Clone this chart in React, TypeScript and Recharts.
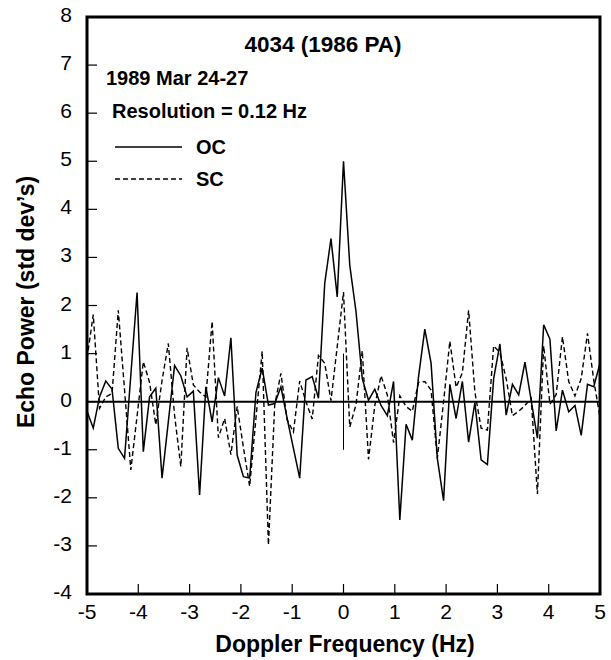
import React from "react";
import { LineChart, Line, XAxis, YAxis, ReferenceLine, ReferenceArea } from "recharts";

// Doppler bins, 0.122 Hz apart, -5 .. +5 Hz
const FREQ = [
  -5.0, -4.878, -4.756, -4.634, -4.512, -4.39, -4.268, -4.146, -4.024, -3.902,
  -3.78, -3.659, -3.537, -3.415, -3.293, -3.171, -3.049, -2.927, -2.805, -2.683,
  -2.561, -2.439, -2.317, -2.195, -2.073, -1.951, -1.829, -1.707, -1.585, -1.463,
  -1.341, -1.22, -1.098, -0.976, -0.854, -0.732, -0.61, -0.488, -0.366, -0.244,
  -0.122, 0, 0.122, 0.244, 0.366, 0.488, 0.61, 0.732, 0.854, 0.976,
  1.098, 1.22, 1.341, 1.463, 1.585, 1.707, 1.829, 1.951, 2.073, 2.195,
  2.317, 2.439, 2.561, 2.683, 2.805, 2.927, 3.049, 3.171, 3.293, 3.415,
  3.537, 3.659, 3.78, 3.902, 4.024, 4.146, 4.268, 4.39, 4.512, 4.634,
  4.756, 4.878, 5.0,
];

// echo power, OC polarization (std dev's)
const OC = [
  -0.2, -0.55, 0.1, 0.43, 0.26, -0.97, -1.18, 0.55, 2.27, -1.04,
  0.1, 0.28, -1.59, -0.42, 0.75, 0.54, 0.1, 0.22, -1.94, 0.31,
  -0.42, 0.5, 0.12, 1.33, -1.11, -1.56, -1.59, 0.19, 0.7, -0.07,
  -0.04, 0.31, -0.35, -0.97, -1.59, 0.45, 0.52, 0.07, 2.46, 3.39,
  2.18, 5.0, 2.84, 1.87, 0.48, 0.03, 0.26, -0.08, -0.29, 0.42,
  -2.46, -0.47, -0.8, 0.52, 1.51, 0.8, -1.18, -2.06, 0.36, -0.35,
  0.42, -0.84, -0.02, -1.21, -1.31, 0.48, 1.2, -0.28, 0.36, 0.14,
  0.82, 0.02, -0.76, 1.6, 1.3, -0.61, 0.24, -0.21, -0.08, -0.7,
  0.36, 0.31, 0.8,
];

// echo power, SC polarization (std dev's)
const SC = [
  0.9, 1.81, -0.14, 0.1, 0.17, 1.9, 0.24, -1.42, -0.3, 0.83,
  0.4, -0.48, 0.44, 1.21, -0.28, -1.35, 1.12, 0.35, 0.2, 0.1,
  1.67, -0.75, -0.35, -1.1, -0.1, -0.95, -1.76, -0.35, 1.05, -2.98,
  -0.07, 0.59, -0.38, -0.63, 0.43, 0.0, -0.36, 0.96, 0.8, 0.02,
  1.15, 2.28, -0.53, -0.06, 1.06, -1.2, -0.08, 0.54, 0.14, -0.85,
  0.12, -0.1, -0.2, 0.4, 0.42, 0.24, -1.18, 0.0, 1.26, 0.3,
  0.6, 1.9, 0.2, -0.55, -0.59, 1.16, 1.02, 0.48, -0.29, -0.2,
  -0.08, 0.07, -1.92, 1.16, -0.05, 0.15, 1.35, 0.42, 0.12, 0.48,
  1.42, 0.45, -0.33,
];

const X_TICKS = [-5, -4, -3, -2, -1, 0, 1, 2, 3, 4, 5];
const Y_TICKS = [-4, -3, -2, -1, 0, 1, 2, 3, 4, 5, 6, 7, 8];

// short marker at 0 Hz
const ZERO_MARK = [-1, 1];

const data = FREQ.map((f, i) => ({ f, oc: OC[i], sc: SC[i] }));

const W = 611;
const H = 660;
const LEFT = 87;
const RIGHT = 600;
const TOP = 17;
const BOTTOM = 594;
const FONT = "'Liberation Sans', Arial, Helvetica, sans-serif";

function XTick({ x, payload }: any) {
  return (
    <g>
      <line x1={x} x2={x} y1={BOTTOM} y2={BOTTOM - 10} stroke="#000" strokeWidth={1.2} />
      <text x={x} y={619} textAnchor="middle" fontSize={21} fontFamily={FONT} fill="#000">
        {payload.value}
      </text>
    </g>
  );
}

function YTick({ y, payload }: any) {
  return (
    <g>
      <line x1={LEFT} x2={LEFT + 10} y1={y} y2={y} stroke="#000" strokeWidth={1.2} />
      <text x={72} y={y + 5} textAnchor="end" fontSize={21} fontFamily={FONT} fill="#000">
        {payload.value}
      </text>
    </g>
  );
}

export default function App() {
  return (
    <div style={{ position: "absolute", left: 0, top: 0, width: W, height: H, background: "#fff" }}>
      <LineChart
        width={W}
        height={H}
        data={data}
        margin={{ top: TOP, right: W - RIGHT, bottom: 36, left: 27 }}
      >
        <XAxis
          type="number"
          dataKey="f"
          domain={[-5, 5]}
          ticks={X_TICKS}
          height={30}
          axisLine={false}
          tickLine={false}
          tick={(p: any) => <XTick {...p} />}
        />
        <YAxis
          type="number"
          domain={[-4, 8]}
          ticks={Y_TICKS}
          width={60}
          axisLine={false}
          tickLine={false}
          tick={(p: any) => <YTick {...p} />}
        />
        <ReferenceLine y={0} stroke="#000" strokeWidth={2} />
        <ReferenceLine
          segment={[{ x: 0, y: ZERO_MARK[0] }, { x: 0, y: ZERO_MARK[1] }]}
          stroke="#000"
          strokeWidth={1}
        />
        <Line
          dataKey="sc"
          stroke="#000"
          strokeWidth={1.4}
          strokeDasharray="5 3"
          dot={false}
          isAnimationActive={false}
        />
        <Line dataKey="oc" stroke="#000" strokeWidth={1.5} dot={false} isAnimationActive={false} />
        <ReferenceArea x1={-5} x2={5} y1={-4} y2={8} fill="none" stroke="#000" strokeWidth={3} />
      </LineChart>

      <svg
        width={W}
        height={H}
        style={{ position: "absolute", left: 0, top: 0, pointerEvents: "none" }}
        fontFamily={FONT}
      >
        <text x={323} y={52} textAnchor="middle" fontSize={22.5} fontWeight="bold">
          4034 (1986 PA)
        </text>
        <text x={106} y={85} fontSize={20} fontWeight="bold">
          1989 Mar 24-27
        </text>
        <text x={112} y={118} fontSize={20} fontWeight="bold">
          Resolution = 0.12 Hz
        </text>
        <line x1={115} x2={182} y1={147} y2={147} stroke="#000" strokeWidth={1.5} />
        <text x={196} y={154} fontSize={20} fontWeight="bold">
          OC
        </text>
        <line x1={115} x2={182} y1={179} y2={179} stroke="#000" strokeWidth={1.4} strokeDasharray="5 3" />
        <text x={196} y={186} fontSize={20} fontWeight="bold">
          SC
        </text>
        <text x={345} y={652} textAnchor="middle" fontSize={23} fontWeight="bold">
          Doppler Frequency (Hz)
        </text>
        <text
          x={0}
          y={0}
          transform="translate(34 302) rotate(-90)"
          textAnchor="middle"
          fontSize={23}
          fontWeight="bold"
        >
          Echo Power (std dev’s)
        </text>
      </svg>
    </div>
  );
}
